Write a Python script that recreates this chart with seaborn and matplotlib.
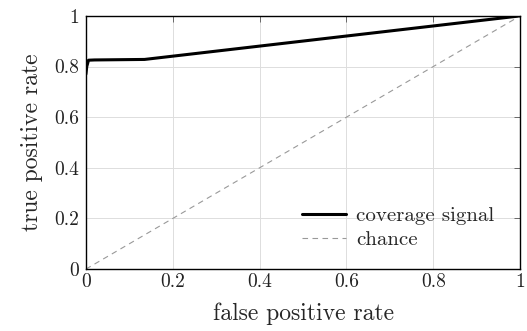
import numpy as np
import pandas as pd
import matplotlib
matplotlib.use("Agg")
import matplotlib.pyplot as plt
import seaborn as sns

# ROC curve points
fpr = [0.0, 0.002, 0.006, 0.02, 0.135, 1.0]
tpr = [0.77, 0.80, 0.825, 0.826, 0.828, 1.0]

chance_x = [0.0, 1.0]
chance_y = [0.0, 1.0]

ticks = [0, 0.2, 0.4, 0.6, 0.8, 1]
tick_labels = ["0", "0.2", "0.4", "0.6", "0.8", "1"]

sns.set_style("white")
plt.rcParams['font.family'] = ['cmr10', 'DejaVu Serif']
plt.rcParams['axes.formatter.use_mathtext'] = True

fig = plt.figure(figsize=(5.27, 3.31), dpi=100)
ax = fig.add_axes([0.163, 0.187, 0.824, 0.765])

df_roc = pd.DataFrame({'fpr': fpr, 'tpr': tpr})
df_chance = pd.DataFrame({'x': chance_x, 'y': chance_y})

sns.lineplot(data=df_roc, x='fpr', y='tpr', ax=ax, color='black', linewidth=2.2,
             label='coverage signal', sort=False, estimator=None)
sns.lineplot(data=df_chance, x='x', y='y', ax=ax, color='#999999', linewidth=0.8,
             linestyle=(0, (5, 4)), label='chance', estimator=None)

ax.set_xlim(0, 1)
ax.set_ylim(0, 1)
ax.set_xticks(ticks)
ax.set_xticklabels(tick_labels)
ax.set_yticks(ticks)
ax.set_yticklabels(tick_labels)
ax.tick_params(direction='in', length=4, width=0.6, color='#555555', labelsize=14,
               top=True, right=True, labelcolor='#222222')
ax.tick_params(axis='x', pad=3)
ax.tick_params(axis='y', pad=5)

ax.grid(True, color='#dddddd', linewidth=0.7)
for s in ax.spines.values():
    s.set_color('black')
    s.set_linewidth(1.0)

ax.set_xlabel('false positive rate', fontsize=17, labelpad=8)
ax.set_ylabel('true positive rate', fontsize=17, labelpad=8)

ax.legend(loc='lower right', bbox_to_anchor=(0.97, 0.03), frameon=False, fontsize=15,
          handlelength=2.1, labelspacing=0.25, handletextpad=0.5, borderaxespad=0.2)

fig.savefig('out.png', dpi=100)
